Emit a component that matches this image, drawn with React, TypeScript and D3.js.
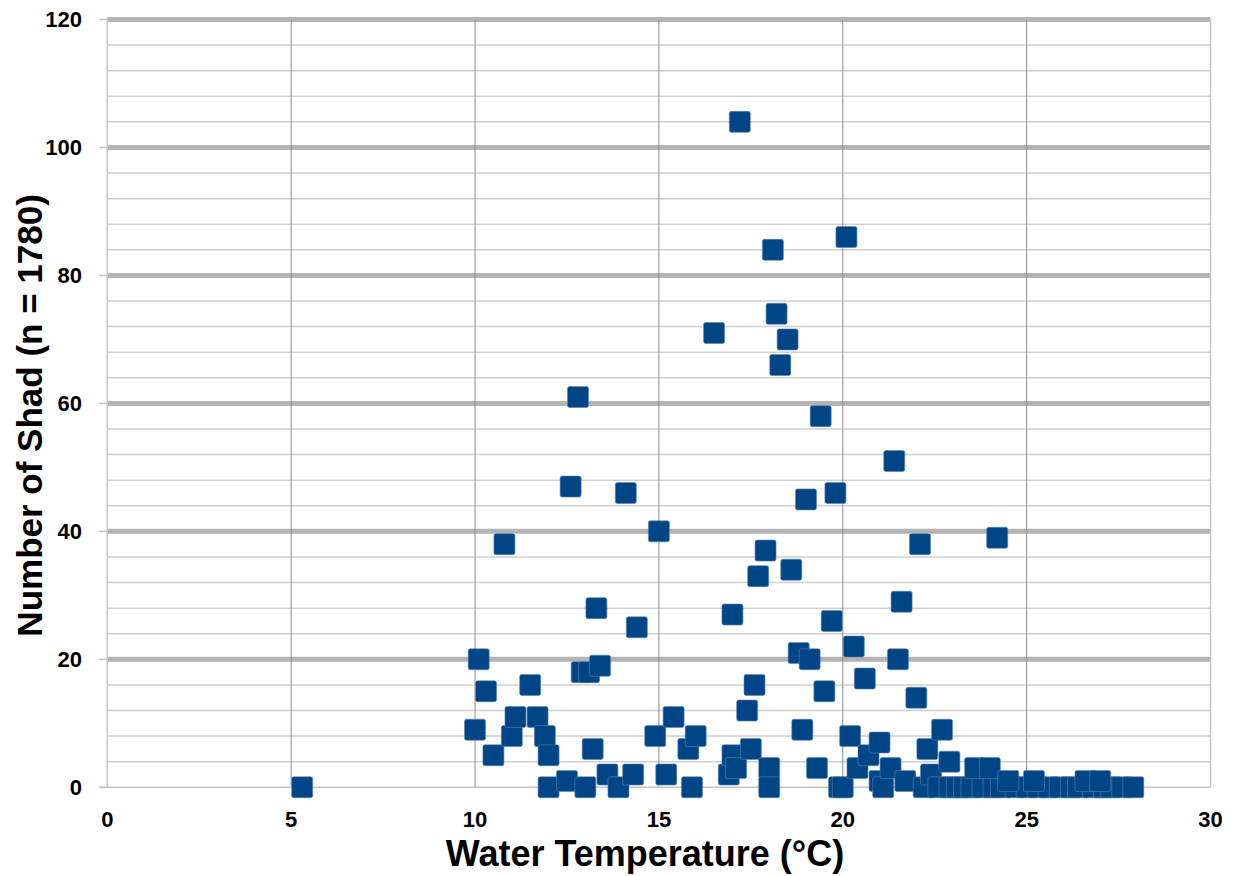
import React, { useEffect, useRef } from 'react';
import * as d3 from 'd3';

// Water temperature (°C) and number of shad caught
const tempC = [
  5.3, 10.0, 10.1, 10.3, 10.5, 10.8, 11.0, 11.1, 11.5, 11.7, 11.9, 12.0, 12.0, 12.5, 12.6,
  12.8, 12.9, 13.1, 13.0, 13.2, 13.3, 13.4, 13.6, 13.9, 14.1, 14.3, 14.4, 14.9, 15.0, 15.2,
  15.4, 15.8, 15.9, 16.0, 16.5, 16.9, 17.0, 17.0, 17.1, 17.2, 17.4, 17.5, 17.6, 17.7, 17.9,
  18.0, 18.0, 18.1, 18.2, 18.3, 18.5, 18.6, 18.8, 18.9, 19.0, 19.1, 19.3, 19.4, 19.5, 19.7,
  19.8, 19.9, 20.0, 20.1, 20.2, 20.3, 20.4, 20.6, 20.7, 21.0, 21.0, 21.1, 21.3, 21.4, 21.5,
  21.6, 21.7, 22.0, 22.1, 22.2, 22.3, 22.4, 22.7, 22.9, 22.6, 22.9, 23.1, 23.3, 23.5, 23.8,
  24.1, 24.3, 24.7, 25.0, 25.3, 25.6, 25.9, 26.2, 26.4, 26.8, 27.1, 27.3, 27.6, 27.9, 23.6,
  24.0, 24.5, 25.2, 26.6, 27.0, 24.2,
];
const shadCount = [
  0, 9, 20, 15, 5, 38, 8, 11, 16, 11, 8, 5, 0, 1, 47,
  61, 18, 18, 0, 6, 28, 19, 2, 0, 46, 2, 25, 8, 40, 2,
  11, 6, 0, 8, 71, 2, 27, 5, 3, 104, 12, 6, 16, 33, 37,
  3, 0, 84, 74, 66, 70, 34, 21, 9, 45, 20, 3, 58, 15, 26,
  46, 0, 0, 86, 8, 22, 3, 17, 5, 1, 7, 0, 3, 51, 20,
  29, 1, 14, 38, 0, 6, 2, 9, 4, 0, 0, 0, 0, 0, 0,
  0, 0, 0, 0, 0, 0, 0, 0, 0, 0, 0, 0, 0, 0, 3,
  3, 1, 1, 1, 1, 39,
];

const xTicks = [0, 5, 10, 15, 20, 25, 30];
const yTicks = [0, 20, 40, 60, 80, 100, 120];
const yMinorTicks = d3.range(4, 120, 4).filter(v => v % 20 !== 0);

const FONT = '"Liberation Sans", Arial, sans-serif';

export default function App() {
  const svgRef = useRef<SVGSVGElement>(null);
  const width = 1233;
  const height = 876;

  useEffect(() => {
    if (!svgRef.current) return;
    const svg = d3.select(svgRef.current);
    svg.selectAll('*').remove();

    const x = d3.scaleLinear().domain([0, 30]).range([107.3, 1210.5]);
    const y = d3.scaleLinear().domain([0, 120]).range([787.3, 19.5]);
    const [x0, x1] = x.range();
    const [y0, y1] = y.range();

    // minor horizontal grid
    svg.append('g')
      .selectAll('line')
      .data(yMinorTicks)
      .enter()
      .append('line')
      .attr('x1', x0).attr('x2', x1)
      .attr('y1', d => y(d)).attr('y2', d => y(d))
      .attr('stroke', '#cfcfcf')
      .attr('stroke-width', 1.5);

    // major horizontal grid
    svg.append('g')
      .selectAll('line')
      .data(yTicks.filter(d => d > 0))
      .enter()
      .append('line')
      .attr('x1', x0).attr('x2', x1)
      .attr('y1', d => y(d)).attr('y2', d => y(d))
      .attr('stroke', '#b3b3b3')
      .attr('stroke-width', 5);

    // vertical grid
    svg.append('g')
      .selectAll('line')
      .data(xTicks.filter(d => d > 0 && d < 30))
      .enter()
      .append('line')
      .attr('x1', d => x(d)).attr('x2', d => x(d))
      .attr('y1', y1).attr('y2', y0)
      .attr('stroke', '#8c8c8c')
      .attr('stroke-width', 1);

    // frame: left axis, bottom axis, right edge
    const frame = svg.append('g').attr('stroke', '#c4c4c4').attr('stroke-width', 1.5);
    frame.append('line').attr('x1', x0).attr('x2', x0).attr('y1', y1).attr('y2', y0);
    frame.append('line').attr('x1', x0 - 8).attr('x2', x1).attr('y1', y0).attr('y2', y0);
    frame.append('line').attr('x1', x1).attr('x2', x1).attr('y1', y1).attr('y2', y0);

    // y tick marks
    svg.append('g')
      .selectAll('line')
      .data(yTicks)
      .enter()
      .append('line')
      .attr('x1', x0 - 8).attr('x2', x0)
      .attr('y1', d => y(d)).attr('y2', d => y(d))
      .attr('stroke', '#c4c4c4')
      .attr('stroke-width', 1.5);

    // tick labels
    svg.append('g')
      .selectAll('text')
      .data(yTicks)
      .enter()
      .append('text')
      .attr('x', 82)
      .attr('y', d => y(d))
      .attr('dy', '0.36em')
      .attr('text-anchor', 'end')
      .attr('font-family', FONT)
      .attr('font-size', 22)
      .attr('font-weight', 'bold')
      .attr('fill', '#000')
      .text(d => d);

    svg.append('g')
      .selectAll('text')
      .data(xTicks)
      .enter()
      .append('text')
      .attr('x', d => x(d))
      .attr('y', 827)
      .attr('text-anchor', 'middle')
      .attr('font-family', FONT)
      .attr('font-size', 22)
      .attr('font-weight', 'bold')
      .attr('fill', '#000')
      .text(d => d);

    // axis titles
    svg.append('text')
      .attr('x', 645)
      .attr('y', 866)
      .attr('text-anchor', 'middle')
      .attr('font-family', FONT)
      .attr('font-size', 36)
      .attr('font-weight', 'bold')
      .attr('fill', '#000')
      .text('Water Temperature (°C)');

    svg.append('text')
      .attr('transform', `translate(42,${(y0 + y1) / 2 + 12}) rotate(-90)`)
      .attr('text-anchor', 'middle')
      .attr('font-family', FONT)
      .attr('font-size', 35)
      .attr('font-weight', 'bold')
      .attr('fill', '#000')
      .text('Number of Shad (n = 1780)');

    // markers
    const size = 21;
    svg.append('g')
      .selectAll('rect')
      .data(d3.range(tempC.length))
      .enter()
      .append('rect')
      .attr('x', i => x(tempC[i]) - size / 2)
      .attr('y', i => y(shadCount[i]) - size / 2)
      .attr('width', size)
      .attr('height', size)
      .attr('rx', 2)
      .attr('fill', '#004586')
      .attr('stroke', '#5b85b3')
      .attr('stroke-width', 0.6);
  }, []);

  return (
    <svg
      ref={svgRef}
      width={width}
      height={height}
      style={{ position: 'absolute', left: 0, top: 0, background: '#fff' }}
    />
  );
}
